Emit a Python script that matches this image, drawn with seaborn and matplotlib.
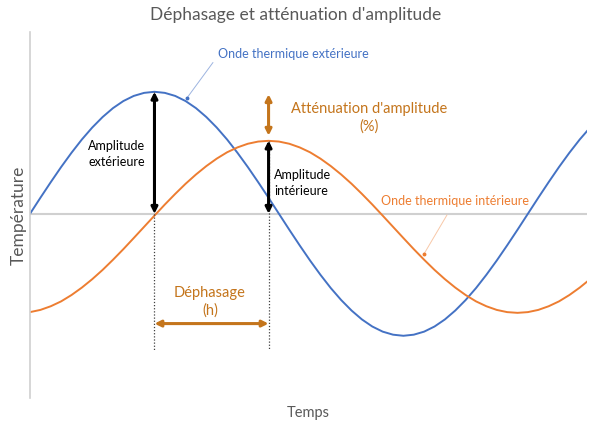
import numpy as np
import pandas as pd
import matplotlib
matplotlib.use("Agg")
import matplotlib.pyplot as plt
import seaborn as sns

# temps (h), pas d'une demi-heure, et températures normalisées lues sur le schéma
heures = list(np.arange(0, 27.5, 0.5))
onde_ext = [0.0, 0.131, 0.259, 0.383, 0.5, 0.609, 0.707, 0.793, 0.866, 0.924, 0.966, 0.991, 1.0,
            0.991, 0.966, 0.924, 0.866, 0.793, 0.707, 0.609, 0.5, 0.383, 0.259, 0.131, 0.0,
            -0.131, -0.259, -0.383, -0.5, -0.609, -0.707, -0.793, -0.866, -0.924, -0.966, -0.991, -1.0,
            -0.991, -0.966, -0.924, -0.866, -0.793, -0.707, -0.609, -0.5, -0.383, -0.259, -0.131, 0.0,
            0.131, 0.259, 0.383, 0.5, 0.609, 0.707]
onde_int = [-0.806, -0.788, -0.758, -0.718, -0.666, -0.605, -0.536, -0.460, -0.377, -0.290,
            -0.199, -0.107, -0.015, 0.076, 0.163, 0.246, 0.322, 0.391, 0.452, 0.504, 0.544,
            0.574, 0.592, 0.598, 0.592, 0.574, 0.544, 0.504, 0.452, 0.391, 0.322, 0.246, 0.163,
            0.076, -0.015, -0.107, -0.199, -0.290, -0.377, -0.460, -0.536, -0.605, -0.666,
            -0.718, -0.758, -0.788, -0.806, -0.812, -0.806, -0.788, -0.758, -0.718, -0.666,
            -0.605, -0.536]

# pics utilisés pour les flèches
t_pic_ext = 6.0
t_pic_int = 11.5
amp_ext = 1.0
amp_int = 0.6

df = pd.DataFrame({"t": heures * 2,
                   "T": onde_ext + onde_int,
                   "onde": ["ext"] * len(heures) + ["int"] * len(heures)})

sns.set_style("white")
plt.rcParams["font.family"] = ["Lato", "DejaVu Sans"]

bleu = "#4472C4"
orange = "#ED7D31"
orange_fonce = "#C4751C"
gris = "#595959"

fig = plt.figure(figsize=(5.91, 4.24), dpi=100)
ax = fig.add_axes([30 / 591, 26 / 424, 557 / 591, 366 / 424])

sns.lineplot(data=df, x="t", y="T", hue="onde", palette={"ext": bleu, "int": orange},
             linewidth=1.4, legend=False, ax=ax)

ax.set_xlim(0, 26.85)
ax.set_ylim(-1.51, 1.49)
ax.axhline(0, color="#D0D0D0", linewidth=1.5, zorder=0)
for s in ["top", "right", "bottom"]:
    ax.spines[s].set_visible(False)
ax.spines["left"].set_color("#D0D0D0")
ax.spines["left"].set_linewidth(1.2)
ax.set_xticks([])
ax.set_yticks([])
ax.set_xlabel("Temps", fontsize=10.5, color=gris, labelpad=6)
ax.set_ylabel("Température", fontsize=12.5, color=gris, labelpad=2)
fig.text(0.5, 1 - 15 / 424, "Déphasage et atténuation d'amplitude", ha="center", va="center",
         fontsize=12.5, color=gris)

# lignes pointillées verticales
for t0, top in [(t_pic_ext, amp_ext), (t_pic_int, amp_int)]:
    ax.plot([t0, t0], [top, -1.115], color="#404040", linestyle=(0, (1, 1.5)), linewidth=0.9)

def fleche(x0, y0, x1, y1, c, lw):
    ax.annotate("", xy=(x1, y1), xytext=(x0, y0),
                arrowprops=dict(arrowstyle="<|-|>", color=c, lw=lw, mutation_scale=9,
                                shrinkA=0, shrinkB=0))

fleche(t_pic_ext, 0, t_pic_ext, amp_ext, "black", 2.2)
fleche(t_pic_int, 0, t_pic_int, amp_int, "black", 2.2)
fleche(t_pic_int, amp_int + 0.04, t_pic_int, 0.98, orange_fonce, 2.2)
fleche(t_pic_ext, -0.9, t_pic_int, -0.9, orange_fonce, 2.2)

# textes
ax.text(12.7, 1.31, "Onde thermique extérieure", color=bleu, fontsize=9, ha="center", va="center")
ax.plot([8.82, 7.57], [1.24, 0.95], color="#9DB4E0", linewidth=0.7)
ax.plot([7.57], [0.95], marker="o", markersize=1.8, color=bleu)
ax.text(4.19, 0.49, "Amplitude\nextérieure", color="black", fontsize=9, ha="center", va="center",
        linespacing=1.4)
ax.text(11.76, 0.25, "Amplitude\nintérieure", color="black", fontsize=9, ha="left", va="center",
        linespacing=1.4)
ax.text(16.34, 0.79, "Atténuation d'amplitude\n(%)", color=orange_fonce, fontsize=10.5,
        ha="center", va="center", linespacing=1.3)
ax.text(20.48, 0.107, "Onde thermique intérieure", color=orange, fontsize=9, ha="center", va="center")
ax.plot([20.1, 18.99], [-0.01, -0.33], color="#F8C8A8", linewidth=0.7)
ax.plot([18.99], [-0.33], marker="o", markersize=1.8, color=orange)
ax.text(8.67, -0.72, "Déphasage\n(h)", color=orange_fonce, fontsize=10.5, ha="center", va="center",
        linespacing=1.3)

fig.savefig("out.png", dpi=100)
